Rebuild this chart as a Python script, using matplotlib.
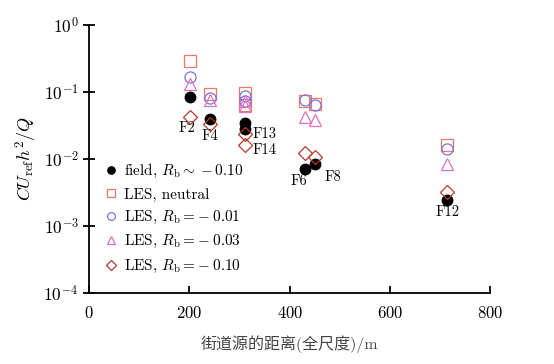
import numpy as np
import matplotlib
matplotlib.use('Agg')
import matplotlib.pyplot as plt

plt.rcParams['font.family'] = ['cmr10', 'Noto Sans CJK SC']
plt.rcParams['mathtext.fontset'] = 'cm'
plt.rcParams['axes.formatter.use_mathtext'] = True

# distance of each street source (m) and case names
dist = [201, 241, 310, 310, 430, 450, 714]
names = ['F2', 'F4', 'F13', 'F14', 'F6', 'F8', 'F12']

# normalised concentration CU h^2/Q
field = [0.0836, 0.0389, 0.0342, 0.0282, 0.00714, 0.00828, 0.0024]
les_neutral = [0.295, 0.0918, 0.095, 0.065, 0.0746, 0.0667, 0.0159]
les_001 = [0.170, 0.0819, 0.0866, 0.0746, 0.0765, 0.0629, 0.0141]
les_003 = [0.132, 0.0765, 0.0746, 0.0608, 0.043, 0.0385, 0.00828]
les_010 = [0.043, 0.0327, 0.0238, 0.0159, 0.0122, 0.0106, 0.00319]

# label offsets (pixels)
lab_dx = [-3, 0, 8, 8, -6, 10, 0]
lab_dy = [-31, -17, -11, -21, -12, -13, -12]

fig = plt.figure(figsize=(5.54, 3.64), dpi=100)
ax = fig.add_axes([0.161, 0.196, 0.724, 0.735])

ax.plot(dist, les_neutral, 's', ms=8, mfc='none', mec='#f07868', mew=0.9,
        label='LES, neutral', zorder=3)
ax.plot(dist, les_001, 'o', ms=8, mfc='none', mec='#7a72d6', mew=0.9,
        label=r'LES, $R_\mathrm{b}=\!-0.01$', zorder=3)
ax.plot(dist, les_003, '^', ms=8, mfc='none', mec='#e070c0', mew=0.9,
        label=r'LES, $R_\mathrm{b}=\!-0.03$', zorder=3)
ax.plot(dist, field, 'o', ms=7.5, color='black',
        label=r'field, $R_\mathrm{b}\sim-0.10$', zorder=4)
ax.plot(dist, les_010, 'D', ms=7, mfc='none', mec='#b83a28', mew=0.9,
        label=r'LES, $R_\mathrm{b}=\!-0.10$', zorder=5)

for i in range(len(names)):
    y = field[i]
    ax.annotate(names[i], (dist[i], y), xytext=(lab_dx[i], lab_dy[i]),
                textcoords='offset pixels', ha='left' if names[i] in ('F13', 'F14', 'F8') else 'center',
                va='center', fontsize=10.5)

ax.set_yscale('log')
ax.set_ylim(1e-4, 1)
ax.set_xlim(0, 800)
ax.set_xticks([0, 200, 400, 600, 800])
ax.set_yticks([1e-4, 1e-3, 1e-2, 1e-1, 1])
ax.yaxis.set_minor_locator(matplotlib.ticker.NullLocator())

for s in ['top', 'right']:
    ax.spines[s].set_visible(False)
for s in ['left', 'bottom']:
    ax.spines[s].set_linewidth(1.3)
ax.tick_params(axis='y', direction='inout', length=9, width=1.3, labelsize=12.5, pad=3)
ax.tick_params(axis='x', direction='in', length=5, width=1.3, labelsize=12, pad=9)

ax.set_xlabel('街道源的距离(全尺度)/m', fontsize=11.5, color='#444444', labelpad=10)
ax.set_ylabel(r'$CU_\mathrm{ref}h^2/Q$', fontsize=13, labelpad=3)

handles, labels = ax.get_legend_handles_labels()
order = [3, 0, 1, 2, 4]
ax.legend([handles[k] for k in order], [labels[k] for k in order],
          loc='lower left', bbox_to_anchor=(0.0, 0.015), frameon=False,
          fontsize=11, markerscale=0.7, handlelength=1.0, handletextpad=0.4,
          labelspacing=0.48)

fig.savefig('out.png', dpi=100)
